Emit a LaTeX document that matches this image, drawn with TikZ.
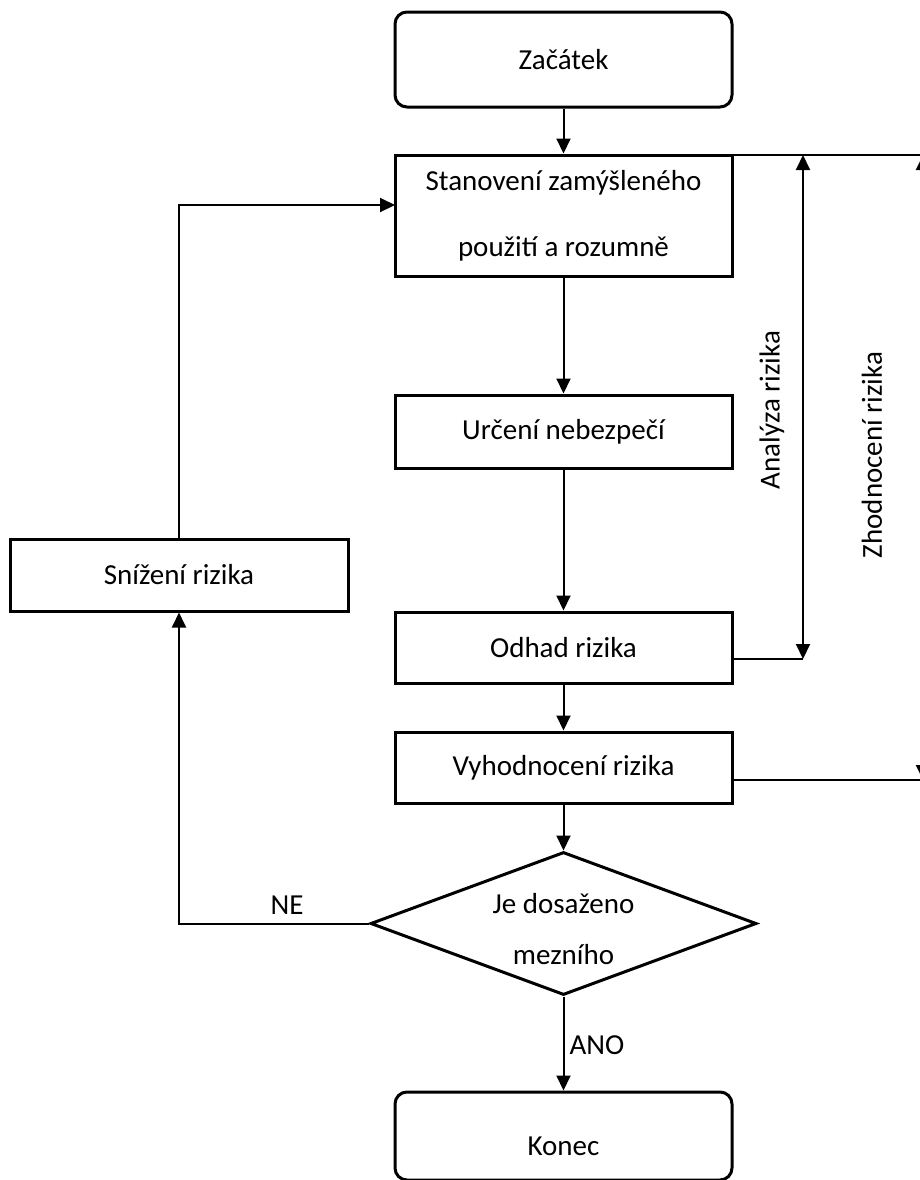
\documentclass[tikz,border=0pt]{standalone}
\usepackage{fontspec}
\setmainfont{Carlito}
\usetikzlibrary{shapes.geometric,arrows.meta}

\begin{document}
\begin{tikzpicture}[x=0.5pt, y=-0.5pt, font=\fontsize{14.5}{17.5}\selectfont,
        box/.style={draw, line width=1.5pt, minimum width=168.5pt, inner sep=0pt},
        term/.style={box, rounded corners=6pt},
        decision/.style={draw, diamond, line width=1.5pt, minimum width=193pt, minimum height=71.5pt, aspect=2.7, inner sep=0pt},
        flow/.style={line width=1pt, -{Triangle[length=7.5pt,width=7pt]}},
        span/.style={line width=1pt, {Triangle[length=7.5pt,width=7pt]}-{Triangle[length=7.5pt,width=7pt]}}]
        \useasboundingbox (0,0) rectangle (920,1180);
        \node[term, minimum height=47.5pt] (zacatek) at (563.5,59.5) {Začátek};
        \node[box, minimum height=60.5pt, align=center, font=\fontsize{14.5}{33}\selectfont] (stanoveni) at (563.5,215.5) {Stanovení zamýšleného\\použití a rozumně};
        \node[box, minimum height=36.5pt] (urceni) at (563.5,431.5) {Určení nebezpečí};
        \node[box, minimum height=35.5pt] (odhad) at (563.5,647.5) {Odhad rizika};
        \node[box, minimum height=35.5pt] (vyhodnoceni) at (563.5,767.5) {Vyhodnocení rizika};
        \node[decision] (mez) at (563.5,923.5) {};
        \node[align=center, font=\fontsize{14.5}{25.5}\selectfont] (meztext) at (563.5,929) {Je dosaženo\\mezního};
        \node[term, minimum height=44pt, text height=19pt, text depth=0pt] (konec) at (563.5,1136) {Konec};
        \node[box, minimum width=169pt, minimum height=36pt] (snizeni) at (179,575) {Snížení rizika};
        \coordinate (zpet) at (395,205);
        \coordinate (aTop) at (803,155);
        \coordinate (aBot) at (803,659);
        \coordinate (zTop) at (923,155);
        \coordinate (zBot) at (923,780);
        % main flow
        \draw[flow] (zacatek) -- (stanoveni);
        \draw[flow] (stanoveni) -- (urceni);
        \draw[flow] (urceni) -- (odhad);
        \draw[flow] (odhad) -- (vyhodnoceni);
        \draw[flow] (vyhodnoceni) -- (mez);
        \draw[flow] (mez) -- (konec);
        \node (ano) at (597,1045) {ANO};
        % loop back
        \draw[flow] (mez.west) -| (snizeni.south);
        \node (ne) at (287,905) {NE};
        \draw[flow] (snizeni.north) |- (zpet);
        % ranges
        \draw[line width=0.8pt] (zTop -| stanoveni.east) -- (zTop);
        \draw[line width=1pt] (aBot -| odhad.east) -- (aBot);
        \draw[line width=1pt] (zBot -| vyhodnoceni.east) -- (zBot);
        \draw[span] (aTop) -- (aBot);
        \draw[span] (zTop) -- (zBot);
        \node[rotate=90] (analyza) at (772,410) {Analýza rizika};
        \node[rotate=90] (zhodnoceni) at (872,455) {Zhodnocení rizika};
\end{tikzpicture}
\end{document}
